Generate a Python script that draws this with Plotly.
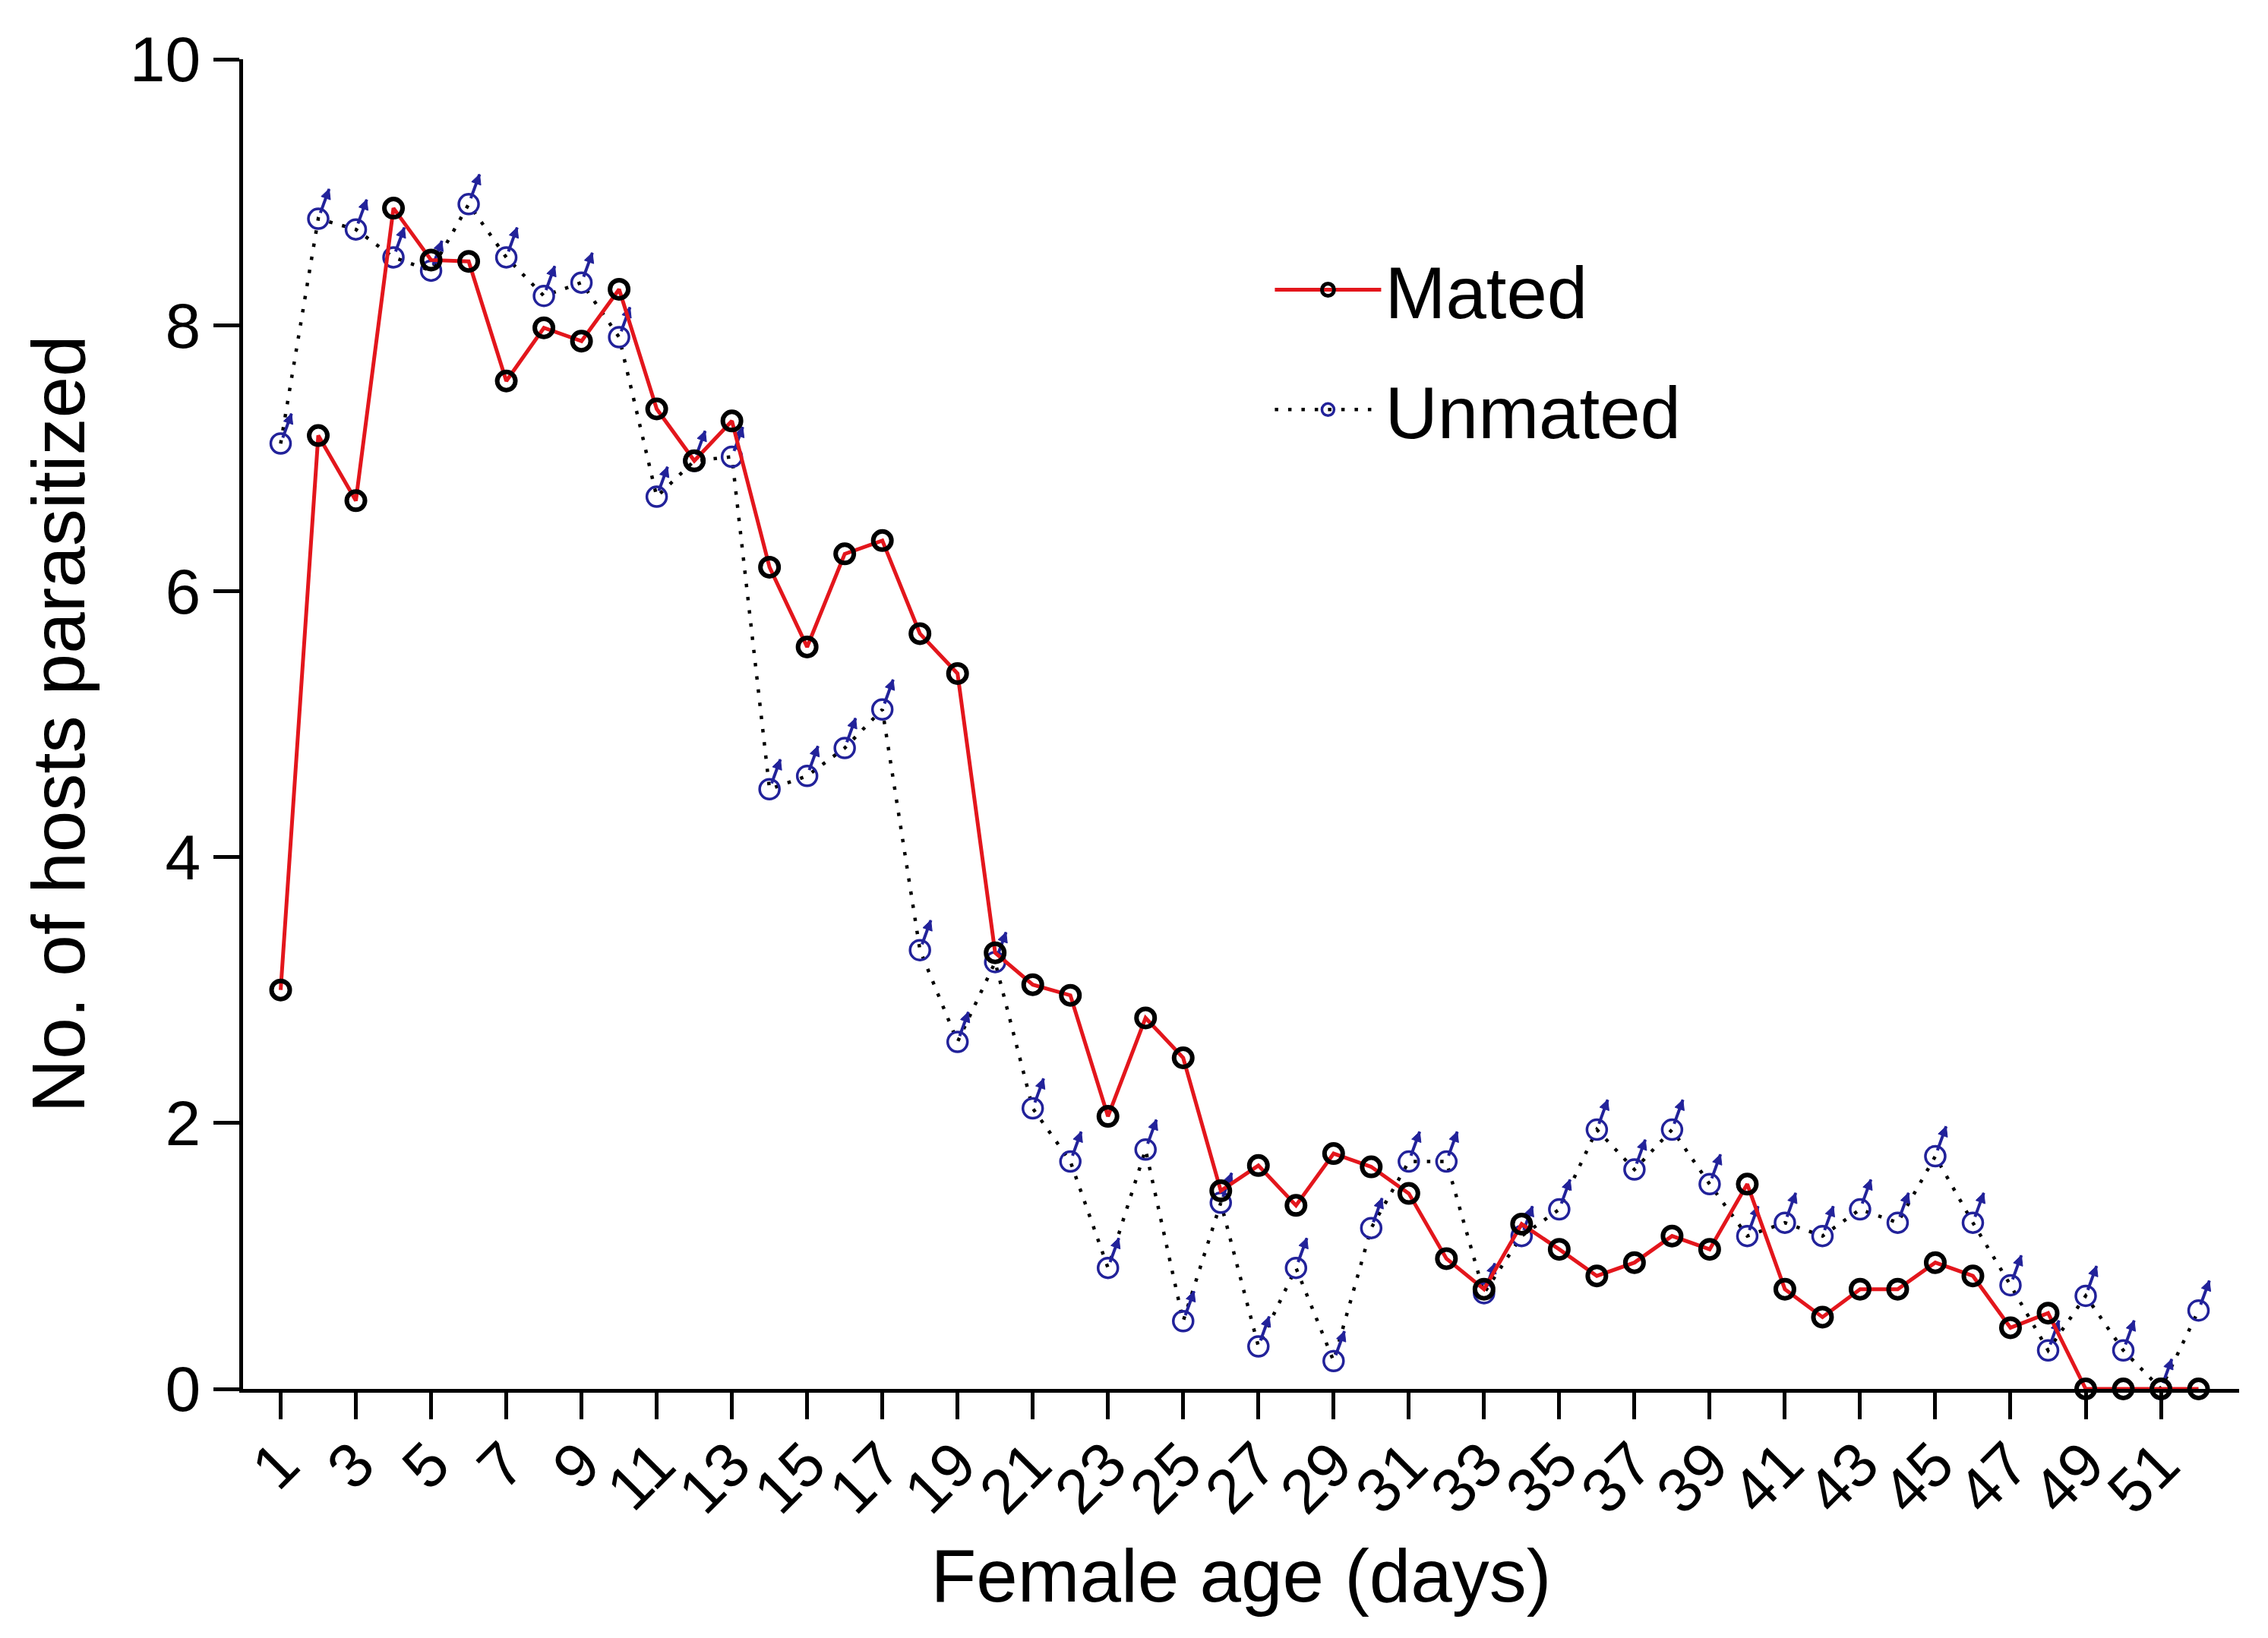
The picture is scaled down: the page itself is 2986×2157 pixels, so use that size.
import plotly.graph_objects as go

days = list(range(1, 53))
mated = [3.0, 7.17, 6.68, 8.88, 8.49, 8.48, 7.58, 7.98, 7.88, 8.27,
         7.37, 6.98, 7.28, 6.18, 5.58, 6.28, 6.38, 5.68, 5.38, 3.28,
         3.04, 2.96, 2.05, 2.79, 2.49, 1.49, 1.68, 1.38, 1.77, 1.67,
         1.47, 0.98, 0.75, 1.24, 1.05, 0.85, 0.95, 1.15, 1.05, 1.54,
         0.75, 0.54, 0.75, 0.75, 0.95, 0.85, 0.46, 0.57, 0, 0,
         0, 0]
unmated = [7.11, 8.8, 8.72, 8.51, 8.41, 8.91, 8.51, 8.22, 8.32, 7.91,
           6.71, 6.98, 7.01, 4.51, 4.61, 4.82, 5.11, 3.3, 2.61, 3.21,
           2.11, 1.71, 0.91, 1.8, 0.51, 1.4, 0.32, 0.91, 0.21, 1.21,
           1.71, 1.71, 0.72, 1.15, 1.35, 1.95, 1.65, 1.95, 1.54, 1.15,
           1.25, 1.15, 1.35, 1.25, 1.75, 1.25, 0.78, 0.29, 0.7, 0.29,
           0, 0.59]
x_tick_vals = list(range(1, 53, 2))
x_tick_text = [str(v) for v in x_tick_vals]
y_tick_vals = [0, 2, 4, 6, 8, 10]

RED = "#e3161c"
BLUE = "#22229a"
FONT = "Liberation Sans, Arial, sans-serif"

fig = go.Figure()

# Unmated: dotted line + circle of the male symbol
fig.add_trace(go.Scatter(
    x=days, y=unmated, name="Unmated", mode="lines+markers",
    legendgroup="u", legendrank=2,
    line=dict(color="black", width=4.5, dash="4.5px,13px"),
    marker=dict(symbol="circle-open", size=26, color=BLUE, line=dict(width=3.5, color=BLUE)),
    cliponaxis=False,
))
# stalk of male symbol
fig.add_trace(go.Scatter(
    x=days, y=unmated, mode="markers", showlegend=False, legendgroup="u",
    marker=dict(symbol="line-ns", size=24, angle=200, standoff=25,
                color=BLUE, line=dict(width=4, color=BLUE)),
    cliponaxis=False, hoverinfo="skip",
))
# arrow head of male symbol
fig.add_trace(go.Scatter(
    x=days, y=unmated, mode="markers", showlegend=False, legendgroup="u",
    marker=dict(symbol="arrow-down", size=13, angle=200, standoff=42,
                color=BLUE, line=dict(width=1, color=BLUE)),
    cliponaxis=False, hoverinfo="skip",
))
# Mated
fig.add_trace(go.Scatter(
    x=days, y=mated, name="Mated", mode="lines+markers",
    legendgroup="m", legendrank=1,
    line=dict(color=RED, width=5),
    marker=dict(symbol="circle-open", size=24, color="black", line=dict(width=6, color="black")),
    cliponaxis=False,
))

fig.update_layout(
    width=2986, height=2157,
    margin=dict(l=312, r=46, t=70, b=336),
    paper_bgcolor="white", plot_bgcolor="white",
    font=dict(family=FONT, color="black"),
    legend=dict(
        x=0.515, y=0.866, xanchor="left", yanchor="top",
        font=dict(size=96, family=FONT), itemwidth=140,
        traceorder="grouped", tracegroupgap=30,
        bgcolor="rgba(0,0,0,0)",
    ),
    xaxis=dict(
        range=[0, 53.08], showline=True, linecolor="black", linewidth=5,
        ticks="outside", ticklen=35, tickwidth=5, tickcolor="black",
        tickvals=x_tick_vals, ticktext=x_tick_text, tickangle=-45,
        tickfont=dict(size=82, family=FONT), ticklabelstandoff=-22,
        showgrid=False, zeroline=False,
        title=dict(text="Female age (days)", font=dict(size=98, family=FONT), standoff=33),
    ),
    yaxis=dict(
        range=[0, 10], showline=True, linecolor="black", linewidth=5,
        ticks="outside", ticklen=34, tickwidth=5, tickcolor="black",
        tickvals=y_tick_vals, tickfont=dict(size=84, family=FONT),
        showgrid=False, zeroline=False,
        title=dict(text="No. of hosts parasitized", font=dict(size=98, family=FONT), standoff=28),
    ),
)

fig.write_html("out.html")
